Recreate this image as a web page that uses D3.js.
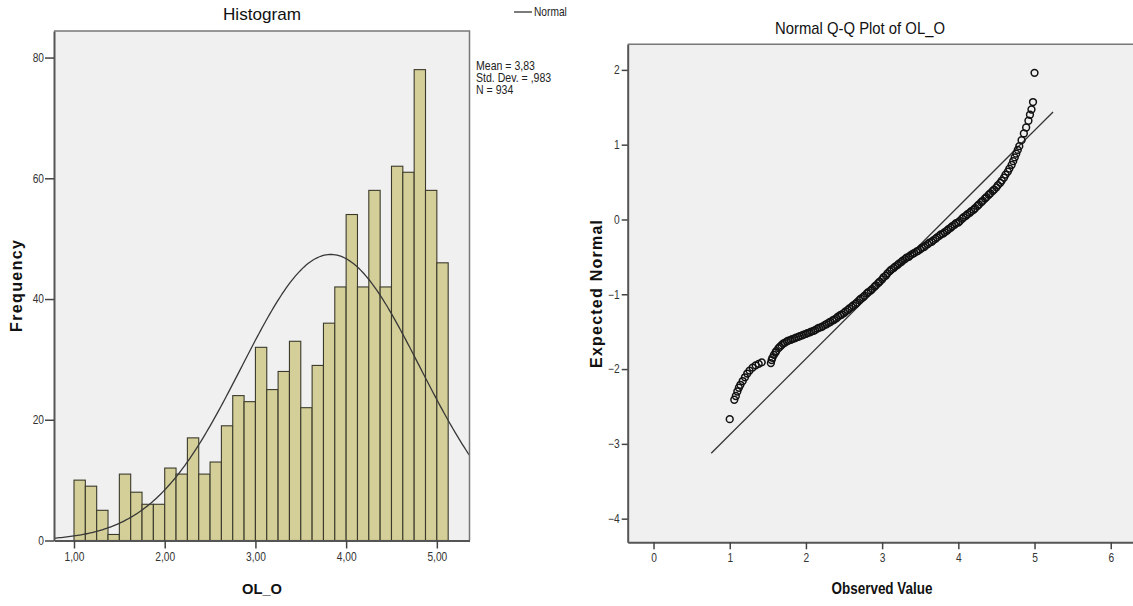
<!DOCTYPE html>
<html>
<head>
<meta charset="utf-8">
<script src="https://cdnjs.cloudflare.com/ajax/libs/d3/7.8.5/d3.min.js"></script>
<style>
body { margin:0; background:#fff; }
svg text { font-family:"Liberation Sans", Arial, sans-serif; fill:#222; }
</style>
</head>
<body>
<svg id="chart" width="1133" height="606"></svg>
<script>
// histogram: bins of 0.125 starting at 1,00
var binStart = 1.0
var binWidth = 0.125
var counts = [10, 9, 5, 1, 11, 8, 6, 6, 12, 11, 17, 11, 13, 19, 24, 23, 32,
	25, 28, 33, 22, 29, 36, 42, 54, 42, 58, 42, 62, 61, 78, 58, 46]
var mean = 3.83, sd = 0.983, n = 934
var histXTicks = [1, 2, 3, 4, 5]
var histYTicks = [0, 20, 40, 60, 80]
var statLines = ['Mean = 3,83', 'Std. Dev. = ,983', 'N = 934']

// Q-Q plot: [observed value, expected normal]
var qqPoints = [
	[1.00, -2.67], [1.06, -2.41], [1.08, -2.36], [1.10, -2.30], [1.12, -2.25], [1.14, -2.21],
	[1.17, -2.16], [1.20, -2.11], [1.23, -2.06], [1.26, -2.02], [1.30, -1.98], [1.34, -1.95],
	[1.38, -1.93], [1.42, -1.91], [1.54, -1.92], [1.55, -1.88], [1.56, -1.85], [1.58, -1.81],
	[1.60, -1.78], [1.61, -1.76], [1.64, -1.72], [1.66, -1.70], [1.68, -1.68], [1.70, -1.66],
	[1.72, -1.65], [1.75, -1.63], [1.77, -1.62], [1.80, -1.61], [1.82, -1.60], [1.85, -1.59],
	[1.87, -1.58], [1.90, -1.57], [1.92, -1.56], [1.95, -1.55], [1.97, -1.54], [2.00, -1.53],
	[2.02, -1.52], [2.05, -1.51], [2.07, -1.50], [2.10, -1.49], [2.12, -1.48], [2.15, -1.46],
	[2.17, -1.45], [2.20, -1.44], [2.22, -1.43], [2.25, -1.41], [2.27, -1.40], [2.30, -1.38],
	[2.32, -1.37], [2.35, -1.35], [2.37, -1.34], [2.40, -1.32], [2.42, -1.30], [2.45, -1.28],
	[2.47, -1.27], [2.50, -1.25], [2.52, -1.23], [2.55, -1.21], [2.57, -1.19], [2.60, -1.17],
	[2.62, -1.15], [2.65, -1.13], [2.67, -1.11], [2.70, -1.08], [2.72, -1.06], [2.75, -1.04],
	[2.77, -1.02], [2.80, -0.99], [2.82, -0.97], [2.85, -0.95], [2.87, -0.93], [2.90, -0.90],
	[2.92, -0.88], [2.95, -0.85], [2.97, -0.83], [3.00, -0.80], [3.02, -0.77], [3.05, -0.75],
	[3.07, -0.72], [3.10, -0.69], [3.12, -0.67], [3.15, -0.65], [3.17, -0.63], [3.20, -0.61],
	[3.22, -0.59], [3.25, -0.57], [3.27, -0.55], [3.30, -0.53], [3.32, -0.51], [3.35, -0.50],
	[3.37, -0.48], [3.40, -0.46], [3.42, -0.45], [3.45, -0.43], [3.47, -0.42], [3.50, -0.40],
	[3.52, -0.38], [3.55, -0.37], [3.57, -0.35], [3.60, -0.33], [3.62, -0.31], [3.65, -0.30],
	[3.67, -0.28], [3.70, -0.26], [3.72, -0.24], [3.75, -0.22], [3.77, -0.20], [3.80, -0.19],
	[3.82, -0.17], [3.85, -0.15], [3.87, -0.13], [3.90, -0.11], [3.92, -0.09], [3.95, -0.07],
	[3.97, -0.05], [4.00, -0.04], [4.02, -0.02], [4.05, 0.01], [4.07, 0.03], [4.10, 0.05],
	[4.12, 0.07], [4.15, 0.09], [4.17, 0.11], [4.20, 0.13], [4.22, 0.15], [4.25, 0.18],
	[4.27, 0.20], [4.30, 0.23], [4.32, 0.25], [4.35, 0.28], [4.37, 0.30], [4.40, 0.33],
	[4.42, 0.35], [4.45, 0.38], [4.47, 0.40], [4.50, 0.43], [4.52, 0.46], [4.55, 0.49],
	[4.57, 0.52], [4.60, 0.56], [4.62, 0.60], [4.65, 0.64], [4.67, 0.68], [4.70, 0.73],
	[4.72, 0.78], [4.74, 0.83], [4.76, 0.88], [4.78, 0.93], [4.80, 0.98], [4.83, 1.06],
	[4.86, 1.15], [4.89, 1.23], [4.92, 1.32], [4.94, 1.40], [4.96, 1.47], [4.98, 1.57],
	[5.00, 1.96]
]
var qqLineRange = [0.757, 5.243]
var qqXTicks = [0, 1, 2, 3, 4, 5, 6]
var qqYTicks = [-4, -3, -2, -1, 0, 1, 2]

var svg = d3.select('#chart')
var comma = function(d) { return d3.format('.2f')(d).replace('.', ',') }
var narrow = 0.85

// condensed text like the SPSS output font
function addText(g, x, y, str, size, opts) {
	opts = opts || {}
	var t = g.append('text')
		.attr('text-anchor', opts.anchor || 'start')
		.style('font-size', size + 'px')
		.style('fill', opts.fill || '#111')
		.text(str)
	if(opts.bold) t.style('font-weight', 'bold')
	if(opts.rotate) {
		t.attr('transform', 'translate(' + x + ',' + y + ') rotate(-90)')
	} else if(opts.length) {
		t.attr('transform', 'translate(' + x + ',' + y + ')')
	} else {
		t.attr('transform', 'translate(' + x + ',' + y + ') scale(' + (opts.scale || narrow) + ',1)')
	}
	if(opts.length) t.attr('textLength', opts.length).attr('lengthAdjust', opts.adjust || 'spacingAndGlyphs')
	return t
}

// ---------- Histogram ----------
var hx = d3.scaleLinear().domain([0.7795, 5.36]).range([54, 469.5])
var hy = d3.scaleLinear().domain([0, 84.4]).range([540.5, 31])

var hist = svg.append('g')
hist.append('rect')
	.attr('x', hx.range()[0]).attr('y', hy.range()[1])
	.attr('width', hx.range()[1] - hx.range()[0])
	.attr('height', hy.range()[0] - hy.range()[1])
	.attr('fill', '#f0f0f0')

hist.selectAll('.bar').data(counts).enter().append('rect')
	.attr('class', 'bar')
	.attr('x', function(d, i) { return hx(binStart + i * binWidth) })
	.attr('width', function(d, i) { return hx(binStart + (i + 1) * binWidth) - hx(binStart + i * binWidth) })
	.attr('y', function(d) { return hy(d) })
	.attr('height', function(d) { return hy(0) - hy(d) })
	.attr('fill', '#d4cf98')
	.attr('stroke', '#3b3a2c')
	.attr('stroke-width', 1.1)

// normal curve scaled to counts
var scaleN = n * binWidth / (sd * Math.sqrt(2 * Math.PI))
var curveX = d3.range(hx.domain()[0], hx.domain()[1] + 0.001, 0.02)
hist.append('path')
	.datum(curveX)
	.attr('fill', 'none')
	.attr('stroke', '#383838')
	.attr('stroke-width', 1.3)
	.attr('d', d3.line()
		.x(function(d) { return hx(d) })
		.y(function(d) { return hy(scaleN * Math.exp(-0.5 * Math.pow((d - mean) / sd, 2))) }))

// frame
hist.append('path')
	.attr('d', 'M' + hx.range()[0] + ',' + hy.range()[1] + 'H' + hx.range()[1] + 'V' + hy.range()[0])
	.attr('fill', 'none').attr('stroke', '#777').attr('stroke-width', 1.5)

hist.append('g').attr('class', 'xaxis').attr('transform', 'translate(0,' + hy(0) + ')')
	.call(d3.axisBottom(hx).tickValues(histXTicks).tickFormat(comma).tickSize(8).tickSizeOuter(0).tickPadding(4))
hist.append('g').attr('class', 'yaxis').attr('transform', 'translate(' + hx.range()[0] + ',0)')
	.call(d3.axisLeft(hy).tickValues(histYTicks).tickSize(9).tickSizeOuter(0).tickPadding(1))

addText(hist, 262, 20, 'Histogram', 17, {anchor:'middle', length:78})
addText(hist, 262, 594, 'OL_O', 15, {anchor:'middle', bold:true, length:40})
addText(hist, 22, 286, 'Frequency', 16, {anchor:'middle', bold:true, rotate:true, length:92, adjust:'spacing'})

// legend and stats
hist.append('line').attr('x1', 514).attr('x2', 532).attr('y1', 12).attr('y2', 12)
	.attr('stroke', '#333').attr('stroke-width', 1.3)
addText(hist, 534, 16, 'Normal', 12, {fill:'#222'})
statLines.forEach(function(s, i) {
	addText(hist, 476, 70 + i * 12, s, 12, {fill:'#222', scale:0.88})
})

// ---------- Normal Q-Q plot ----------
var qx = d3.scaleLinear().domain([-0.339, 6.6]).range([627.7, 627.7 + 6.939 * 76.2])
var qy = d3.scaleLinear().domain([-4.316, 2.342]).range([542.3, 44.3])

var qq = svg.append('g')
qq.append('rect')
	.attr('x', qx.range()[0]).attr('y', qy.range()[1])
	.attr('width', qx.range()[1] - qx.range()[0])
	.attr('height', qy.range()[0] - qy.range()[1])
	.attr('fill', '#f0f0f0')
qq.append('line')
	.attr('x1', qx.range()[0]).attr('x2', qx.range()[1])
	.attr('y1', qy.range()[1]).attr('y2', qy.range()[1])
	.attr('stroke', '#777').attr('stroke-width', 1.5)

qq.append('line')
	.attr('x1', qx(qqLineRange[0])).attr('y1', qy((qqLineRange[0] - mean) / sd))
	.attr('x2', qx(qqLineRange[1])).attr('y2', qy((qqLineRange[1] - mean) / sd))
	.attr('stroke', '#333').attr('stroke-width', 1.3)

qq.selectAll('.pt').data(qqPoints).enter().append('circle')
	.attr('class', 'pt')
	.attr('cx', function(d) { return qx(d[0]) })
	.attr('cy', function(d) { return qy(d[1]) })
	.attr('r', 3.4)
	.attr('fill', 'none')
	.attr('stroke', '#111')
	.attr('stroke-width', 1.5)

qq.append('g').attr('class', 'xaxis').attr('transform', 'translate(0,' + qy.range()[0] + ')')
	.call(d3.axisBottom(qx).tickValues(qqXTicks).tickFormat(d3.format('d')).tickSize(7).tickSizeOuter(0).tickPadding(4))
qq.append('g').attr('class', 'yaxis').attr('transform', 'translate(' + qx.range()[0] + ',0)')
	.call(d3.axisLeft(qy).tickValues(qqYTicks).tickFormat(d3.format('d')).tickSize(6).tickSizeOuter(0).tickPadding(2))

addText(qq, 860, 34, 'Normal Q-Q Plot of OL_O', 17, {anchor:'middle', length:170})
addText(qq, 882, 594, 'Observed Value', 16, {anchor:'middle', bold:true, length:101})
addText(qq, 602, 294, 'Expected Normal', 16, {anchor:'middle', bold:true, rotate:true, length:148, adjust:'spacing'})

// axis styling
svg.selectAll('.domain').attr('stroke', '#555').attr('stroke-width', 2)
svg.selectAll('.tick line').attr('stroke', '#444').attr('stroke-width', 1.5)
svg.selectAll('.tick text').style('font-size', '12px').style('fill', '#333')
	.attr('transform', 'scale(' + narrow + ',1)')
svg.selectAll('.yaxis .tick text').each(function() {
	var t = d3.select(this)
	t.attr('x', +t.attr('x') / narrow)
})
</script>
</body>
</html>
